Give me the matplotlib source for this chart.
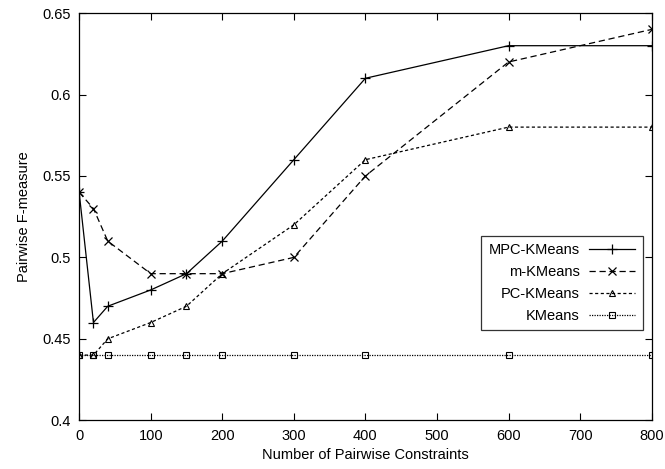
import matplotlib
matplotlib.use("Agg")
import matplotlib.pyplot as plt

plt.rcParams['font.family'] = ['Liberation Sans', 'DejaVu Sans']

x = [0, 20, 40, 100, 150, 200, 300, 400, 600, 800]
mpc = [0.54, 0.46, 0.47, 0.48, 0.49, 0.51, 0.56, 0.61, 0.63, 0.63]
mk = [0.54, 0.53, 0.51, 0.49, 0.49, 0.49, 0.50, 0.55, 0.62, 0.64]
pck = [0.44, 0.44, 0.45, 0.46, 0.47, 0.49, 0.52, 0.56, 0.58, 0.58]
km = [0.44, 0.44, 0.44, 0.44, 0.44, 0.44, 0.44, 0.44, 0.44, 0.44]
labels = ["MPC-KMeans", "m-KMeans", "PC-KMeans", "KMeans"]
xticks = [0, 100, 200, 300, 400, 500, 600, 700, 800]
yticks = [0.4, 0.45, 0.5, 0.55, 0.6, 0.65]

fig = plt.figure(figsize=(6.65, 4.69), dpi=100)
ax = fig.add_axes([0.119, 0.104, 0.861, 0.868])

lw = 0.9
ax.plot(x, mpc, color='black', lw=lw, ls='-', marker='+', ms=7, mew=0.9, label=labels[0])
ax.plot(x, mk, color='black', lw=lw, ls=(0, (5, 3)), marker='x', ms=6, mew=0.9, label=labels[1])
ax.plot(x, pck, color='black', lw=lw, ls=(0, (2.5, 2)), marker='^', ms=5, mfc='none', mew=0.8, label=labels[2])
ax.plot(x, km, color='black', lw=lw, ls=(0, (1, 1)), marker='s', ms=5, mfc='none', mew=0.8, label=labels[3])

ax.set_xlim(0, 800)
ax.set_ylim(0.4, 0.65)
ax.set_xticks(xticks)
ax.set_xticklabels([str(v) for v in xticks])
ax.set_yticks(yticks)
ax.set_yticklabels(['0.4', '0.45', '0.5', '0.55', '0.6', '0.65'])
ax.tick_params(direction='in', top=True, right=True, length=5, width=0.8, labelsize=10.5, pad=6)
for s in ax.spines.values():
    s.set_linewidth(0.9)

ax.set_xlabel("Number of Pairwise Constraints", fontsize=10.5, labelpad=4)
ax.set_ylabel("Pairwise F-measure", fontsize=10.5, labelpad=8)

leg = ax.legend(loc='lower right', bbox_to_anchor=(0.984, 0.221), borderaxespad=0,
                markerfirst=False,
                fontsize=10.5, frameon=True, fancybox=False, edgecolor='black',
                handlelength=3.2, labelspacing=0.55, borderpad=0.5, handletextpad=0.6)
leg.get_frame().set_linewidth(0.9)

fig.savefig("out.png", dpi=100)
